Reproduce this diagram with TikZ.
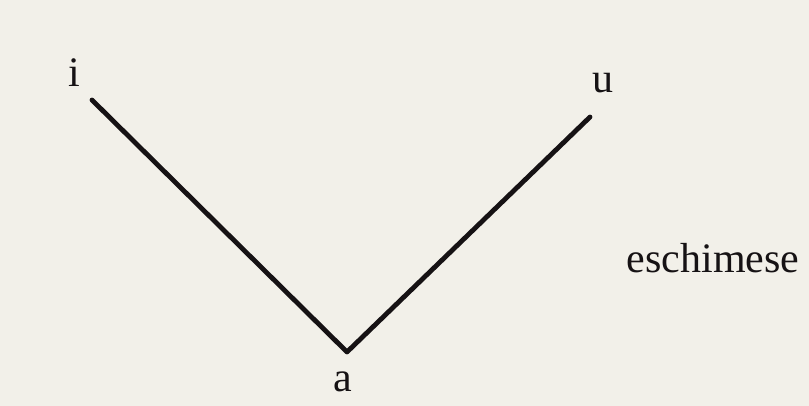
\documentclass[tikz,border=0pt]{standalone}
\usepackage{fontspec}
\setmainfont{Liberation Serif}
\usetikzlibrary{positioning}
\definecolor{PaperColor}{RGB}{242,240,233}
\definecolor{InkColor}{RGB}{22,18,20}

\begin{document}
\begin{tikzpicture}[x=0.5pt, y=-0.5pt]
      \fill[PaperColor] (0,0) rectangle (809,406);
      \useasboundingbox (0,0) rectangle (809,406);
      \tikzset{vowel/.style={anchor=base, inner sep=0pt, InkColor, font=\fontsize{21}{24}\selectfont}}
      \coordinate (iend) at (92,100);
      \coordinate (aend) at (347,352);
      \coordinate (uend) at (590,117);
      \node[vowel] (ilab) at (74,87) {i};
      \node[vowel] (ulab) at (603,93) {u};
      \node[vowel] (alab) at (343,392) {a};
      \node[vowel] (lang) at (713,273) {eschimese};
      \draw[InkColor, line width=2.4pt, line cap=round, line join=round] (iend)--(aend)--(uend);
    \end{tikzpicture}
\end{document}
